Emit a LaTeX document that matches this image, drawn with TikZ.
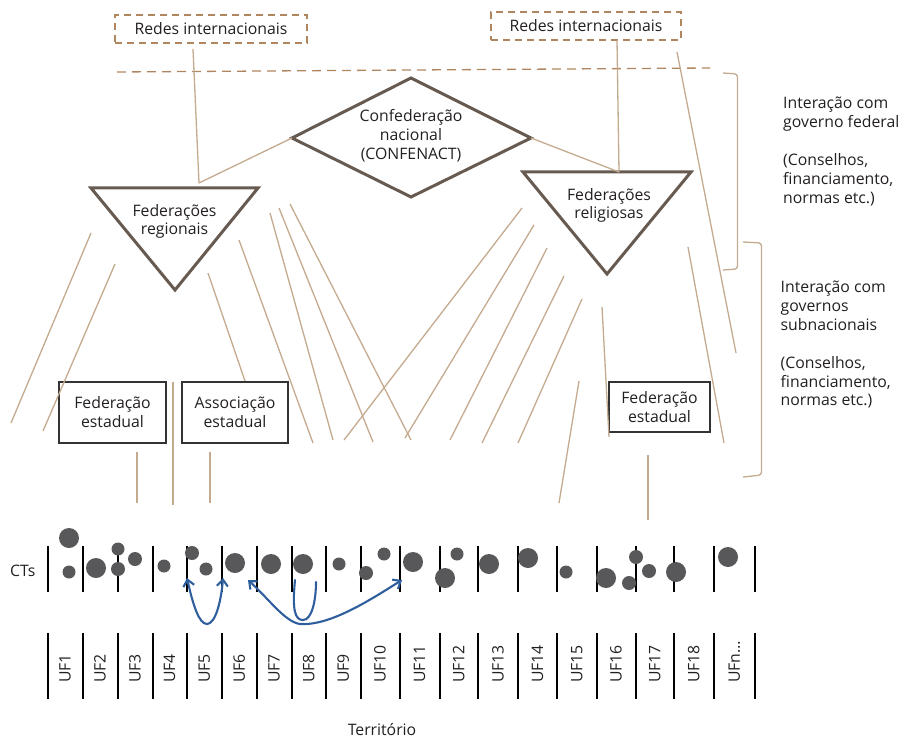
\documentclass[tikz,border=0pt]{standalone}
\usepackage{fontspec}
\setmainfont{Open Sans}
\usetikzlibrary{arrows.meta}
\definecolor{tanl}{HTML}{C4AA8E}
\definecolor{dashc}{HTML}{B08660}
\definecolor{shapec}{HTML}{675A51}
\definecolor{boxc}{HTML}{333333}
\definecolor{dotc}{HTML}{58585A}
\definecolor{bluec}{HTML}{2F5E9C}
\definecolor{txt}{HTML}{231F20}
\begin{document}
\begin{tikzpicture}[x=1pt,y=-1pt,
  every node/.style={font=\fontsize{15.8}{19}\selectfont, text=txt, inner sep=0pt},
  tanline/.style={draw=tanl, line width=1.3pt},
  dashline/.style={draw=dashc, line width=1.3pt, dash pattern=on 9pt off 6pt},
  dashbox/.style={draw=dashc, line width=1.2pt, dash pattern=on 7pt off 5pt},
  shapeline/.style={draw=shapec, line width=3pt, line join=miter},
  boxnode/.style={draw=boxc, line width=1.4pt, align=center},
  ctline/.style={draw=black, line width=2pt},
  bluearrow/.style={draw=bluec, line width=2.1pt, line cap=round},
  tip/.tip={Straight Barb[length=6.5pt,width=11pt]},
  sidetext/.style={anchor=base west}
]
\useasboundingbox (0,0) rectangle (904,738);

% ---- Redes internacionais boxes
\node[dashbox, minimum width=192pt, minimum height=28pt] (redesL) at (211,29) {Redes internacionais};
\node[dashbox, minimum width=190pt, minimum height=28pt] (redesR) at (586,26) {Redes internacionais};

% ---- dashed horizontal line
\coordinate (dl1) at (117,72);
\coordinate (dl2) at (710,68);
\draw[dashline] (dl1) -- (dl2);

% ---- diamond
\coordinate (dmW) at (292,138);
\coordinate (dmN) at (411,78);
\coordinate (dmE) at (531,138);
\coordinate (dmS) at (411,197);
\draw[shapeline] (dmW) -- (dmN) -- (dmE) -- (dmS) -- cycle;
\node[align=center] (confed) at (411,136) {Confederação\\nacional\\(CONFENACT)};

% ---- left triangle
\coordinate (tlA) at (91,188);
\coordinate (tlB) at (258,188);
\coordinate (tlC) at (175,290);
\draw[shapeline] (tlA) -- (tlB) -- (tlC) -- cycle;
\node[align=center, font=\fontsize{15.8}{18}\selectfont] (fedreg) at (174.5,221) {Federações\\regionais};

% ---- right triangle
\coordinate (trA) at (523,172);
\coordinate (trB) at (691,172);
\coordinate (trC) at (607,274);
\draw[shapeline] (trA) -- (trB) -- (trC) -- cycle;
\node[align=center, font=\fontsize{15.8}{18.5}\selectfont] (fedrel) at (609,205.5) {Federações\\religiosas};

% ---- connectors at top
\coordinate (rlb) at (193,49);
\coordinate (tlTop) at (199,183);
\draw[tanline] (rlb) -- (tlTop);
\draw[tanline] (dmW) -- (tlTop);
\coordinate (rrb) at (617,40);
\coordinate (trTop) at (619,172);
\draw[tanline] (rrb) -- (trTop);
\draw[tanline] (dmE) -- (trTop);

% ---- boxes
\node[boxnode, minimum width=107pt, minimum height=61pt] (fedest1) at (112.5,412.5) {Federação\\estadual};
\node[boxnode, minimum width=106pt, minimum height=61pt] (assoc) at (235,412.5) {Associação\\estadual};
\node[boxnode, minimum width=101pt, minimum height=50pt] (fedest2) at (659.5,407) {Federação\\estadual};

% ---- free tan segments
\foreach \xa/\ya/\xb/\yb [count=\i] in {
  91/233/11/423, 115/264/43/431, 208/273/245/381, 239/240/313/443,
  270/213/333/440, 279/208/373/442, 290/204/411/440,
  522/208/344/440, 534/225/405/438, 547/248/450/440, 564/276/482/443,
  582/299/518/443, 579/381/559/503, 602/307/609/437, 688/247/724/443,
  677/52/736/353,
  137/452/137/503, 173/382/173/505, 210/452/210/503, 648/455/648/520}{
  \coordinate (s\i a) at (\xa,\ya);
  \coordinate (s\i b) at (\xb,\yb);
  \draw[tanline] (s\i a) -- (s\i b);
}

% ---- brackets
\coordinate (bu1) at (723,73);
\coordinate (bu2) at (737.5,74);
\coordinate (bu3) at (737.5,269);
\coordinate (bu4) at (723,270);
\draw[tanline, rounded corners=3pt] (bu1) -- (bu2) -- (bu3) -- (bu4);
\coordinate (bl1) at (743,242);
\coordinate (bl2) at (761.5,243);
\coordinate (bl3) at (761.5,475);
\coordinate (bl4) at (743,477);
\draw[tanline, rounded corners=3pt] (bl1) -- (bl2) -- (bl3) -- (bl4);

% ---- side texts
\foreach \t/\yy [count=\i] in {Interação com/108.5, governo federal/127.5, {(Conselhos,}/165.5, {financiamento,}/184.5, {normas etc.)}/203.5}{
  \node[sidetext] (up\i) at (783,\yy) {\t};
}
\foreach \t/\yy [count=\i] in {Interação com/292.5, governos/311.4, subnacionais/330.3, {(Conselhos,}/368.1, {financiamento,}/387, {normas etc.)}/405.9}{
  \node[sidetext] (lo\i) at (780.5,\yy) {\t};
}

% ---- CT row
\node[anchor=base west] (cts) at (10,576.5) {CTs};
\foreach \x [count=\i] in {47.5,82.5,117.5,152.5,186.5,222,256.5,291.5,326,360.5,399.5,439.5,478,518,557,596.5,635.5,674,713.5,755}{
  \coordinate (ct\i a) at (\x,546);
  \coordinate (ct\i b) at (\x,592);
  \draw[ctline] (ct\i a) -- (ct\i b);
  \coordinate (uf\i a) at (\x,633);
  \coordinate (uf\i b) at (\x,699);
  \draw[ctline] (uf\i a) -- (uf\i b);
}
\foreach \x/\y/\r in {69/538/10, 69/572/6.5, 96/568/10, 118/549/6.5, 118/569/7, 135/559/7,
  164/566/6.5, 192/553/7, 206/569/6.5, 235/563/10, 271/564/10, 303/564/10, 339/564/6.5,
  366/573/7, 384/554/6.5, 413/562/10, 445/578/10, 457/554/6.5, 489/564/10, 528/558/10,
  566/572/6.5, 606/578/10, 636/557/7, 629/583/7, 649/571/7, 676/572/10, 728/557/10}{
  \fill[dotc] (\x,\y) circle[radius=\r pt];
}

% ---- UF labels
\foreach \x/\t [count=\i] in {65/UF1,100/UF2,135/UF3,169.5/UF4,204.25/UF5,239.25/UF6,274/UF7,308.75/UF8,343.25/UF9,380/UF10,419.5/UF11,458.75/UF12,498/UF13,537.5/UF14,576.75/UF15,616/UF16,654.75/UF17,693.75/UF18,734.25/UFn…}{
  \node[rotate=90, anchor=west] (lab\i) at (\x,683) {\t};
}
\node[anchor=base] (terr) at (382,735) {Território};

% ---- blue arrows
\coordinate (a1s) at (187,578);
\coordinate (a1m) at (207,624);
\coordinate (a1e) at (223,578);
\draw[bluearrow, {tip}-{tip}] (a1s) .. controls (193,605) and (199,624) .. (a1m) .. controls (215,624) and (221,603) .. (a1e);
\coordinate (a2s) at (248,580);
\coordinate (a2m) at (300,624);
\coordinate (a2e) at (402,580);
\draw[bluearrow, {tip}-{tip}] (a2s) .. controls (268,598) and (285,622) .. (a2m) .. controls (330,626) and (370,600) .. (a2e);
\coordinate (u1) at (295,580);
\coordinate (u2) at (303,620);
\coordinate (u3) at (316,582);
\draw[bluearrow] (u1) .. controls (292,610) and (295,620) .. (u2) .. controls (312,620) and (316,600) .. (u3);
\end{tikzpicture}
\end{document}
